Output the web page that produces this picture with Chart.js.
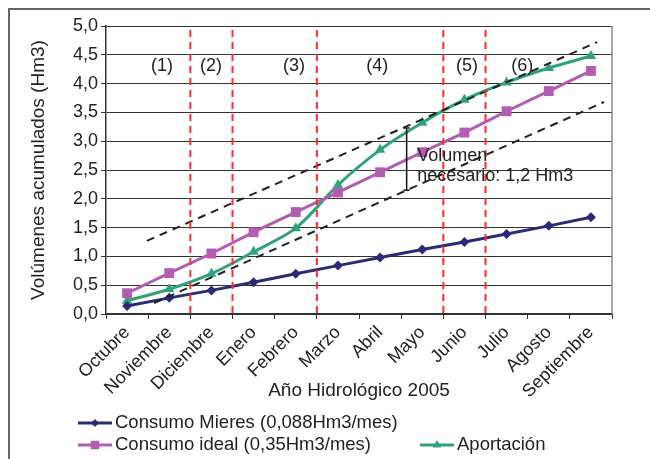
<!DOCTYPE html>
<html>
<head>
<meta charset="utf-8">
<script src="https://cdn.jsdelivr.net/npm/chart.js@4/dist/chart.umd.min.js"></script>
<style>
  body { margin: 0; background: #fff; }
  #wrap { position: relative; width: 650px; height: 459px; overflow: hidden; }
  #frame { position: absolute; left: 8px; top: 8px; width: 700px; height: 500px; border: 2px solid #666; pointer-events: none; }
</style>
</head>
<body>
<div id="wrap">
  <canvas id="chart" width="650" height="459"></canvas>
  <div id="frame"></div>
</div>
<script>
var months = ["Octubre", "Noviembre", "Diciembre", "Enero", "Febrero", "Marzo", "Abril", "Mayo", "Junio", "Julio", "Agosto", "Septiembre"];
var consumoMieres = [0.14, 0.28, 0.41, 0.55, 0.70, 0.84, 0.98, 1.12, 1.25, 1.39, 1.53, 1.68];
var consumoIdeal = [0.36, 0.71, 1.05, 1.42, 1.77, 2.11, 2.46, 2.81, 3.15, 3.52, 3.87, 4.22];
var aportacion = [0.23, 0.43, 0.70, 1.08, 1.49, 2.24, 2.85, 3.32, 3.72, 4.02, 4.27, 4.48];

// limites de los periodos (1)..(6), en posicion de mes
var periodBounds = [1.5, 2.5, 4.5, 7.5, 8.5];
var periodLabels = ["(1)", "(2)", "(3)", "(4)", "(5)", "(6)"];
var periodLabelX = [0.83, 1.99, 3.96, 5.93, 8.06, 9.37];

// rectas envolventes (x en posicion de mes, y en Hm3)
var upperLine = [{ x: 0.47, y: 1.27 }, { x: 11.15, y: 4.72 }];
var lowerLine = [{ x: 0.64, y: 0.19 }, { x: 11.31, y: 3.68 }];
var volumenLine = [{ x: 6.63, y: 3.23 }, { x: 6.63, y: 2.15 }];

var textColor = "#222";
var fontFamily = "'Liberation Sans', Arial, sans-serif";

var navy = "#2b2a78";
var magenta = "#b35cb3";
var green = "#2ea378";

var datasets = [];

periodBounds.forEach(function(b) {
    datasets.push({
        data: [{ x: b, y: 4.93 }, { x: b, y: -0.07 }],
        xAxisID: "x2",
        borderColor: "#ff2a2a",
        borderWidth: 2,
        borderDash: [7, 5],
        pointRadius: 0,
        clip: false
    });
});

datasets.push({
    data: upperLine, xAxisID: "x2", borderColor: "#222", borderWidth: 2,
    borderDash: [8, 6], pointRadius: 0
});
datasets.push({
    data: lowerLine, xAxisID: "x2", borderColor: "#222", borderWidth: 2,
    borderDash: [8, 6], pointRadius: 0
});
datasets.push({
    data: volumenLine, xAxisID: "x2", borderColor: "#111", borderWidth: 1.5,
    pointStyle: "line", pointRadius: 3, pointBorderColor: "#111", pointBorderWidth: 1.5
});

datasets.push({
    label: "Consumo Mieres (0,088Hm3/mes)",
    data: consumoMieres, borderColor: navy, backgroundColor: navy, borderWidth: 3,
    pointStyle: "rectRot", pointRadius: 5, pointBorderWidth: 0
});
datasets.push({
    label: "Consumo ideal (0,35Hm3/mes)",
    data: consumoIdeal, borderColor: magenta, backgroundColor: magenta, borderWidth: 3,
    pointStyle: "rect", pointRadius: 7, pointBorderWidth: 0
});
datasets.push({
    label: "Aportación",
    data: aportacion, borderColor: green, backgroundColor: green, borderWidth: 3,
    pointStyle: "triangle", pointRadius: 6, pointBorderWidth: 0, tension: 0.3
});

var extrasPlugin = {
    id: "extras",
    afterDatasetsDraw: function(chart) {
        var ctx = chart.ctx;
        var xs = chart.scales.x2;
        var ys = chart.scales.y;
        var area = chart.chartArea;
        ctx.save();
        // borde derecho del area
        ctx.strokeStyle = "#888";
        ctx.lineWidth = 1.5;
        ctx.beginPath();
        ctx.moveTo(area.right, area.top);
        ctx.lineTo(area.right, area.bottom);
        ctx.stroke();

        ctx.fillStyle = textColor;
        ctx.font = "18px " + fontFamily;
        ctx.textAlign = "center";
        ctx.textBaseline = "middle";
        periodLabels.forEach(function(t, i) {
            ctx.fillText(t, xs.getPixelForValue(periodLabelX[i]), ys.getPixelForValue(4.31));
        });

        ctx.textAlign = "left";
        ctx.fillText("Volumen", xs.getPixelForValue(6.88), ys.getPixelForValue(2.74));
        ctx.fillText("necesario: 1,2 Hm3", xs.getPixelForValue(6.88), ys.getPixelForValue(2.40));

        // leyenda
        var items = [
            { ds: 8, x: 78, y: 423 },
            { ds: 9, x: 78, y: 445 },
            { ds: 10, x: 420, y: 445 }
        ];
        items.forEach(function(it) {
            var ds = chart.data.datasets[it.ds];
            ctx.strokeStyle = ds.borderColor;
            ctx.lineWidth = 3;
            ctx.beginPath();
            ctx.moveTo(it.x, it.y);
            ctx.lineTo(it.x + 34, it.y);
            ctx.stroke();
            ctx.fillStyle = ds.backgroundColor;
            Chart.helpers.drawPoint(ctx, {
                pointStyle: ds.pointStyle, radius: ds.pointRadius - 1, borderWidth: 0, rotation: 0
            }, it.x + 17, it.y);
            ctx.fillStyle = textColor;
            ctx.font = "18.5px " + fontFamily;
            ctx.fillText(ds.label, it.x + 37, it.y);
        });
        ctx.restore();
    }
};

new Chart(document.getElementById("chart"), {
    type: "line",
    data: { labels: months, datasets: datasets },
    plugins: [extrasPlugin],
    options: {
        responsive: false,
        animation: false,
        layout: { padding: { top: 26, right: 38, bottom: 53, left: 23 } },
        plugins: { legend: { display: false }, tooltip: { enabled: false } },
        scales: {
            x: {
                offset: true,
                afterFit: function(s) { s.height = 92; },
                grid: { display: true, drawOnChartArea: false, tickLength: 5, color: "#333", offset: true },
                border: { color: "#333", width: 1.5 },
                ticks: { minRotation: 45, maxRotation: 45, color: textColor, font: { size: 18, family: fontFamily } },
                title: { display: true, text: "Año Hidrológico 2005", color: textColor, font: { size: 19, family: fontFamily } }
            },
            x2: { type: "linear", display: false, min: -0.5, max: 11.5 },
            y: {
                min: 0, max: 5,
                afterFit: function(s) { s.width = 83; },
                grid: { color: "#333", lineWidth: 1, tickLength: 5 },
                border: { color: "#333", width: 1.5 },
                ticks: {
                    stepSize: 0.5, color: textColor, font: { size: 18, family: fontFamily },
                    callback: function(v) { return v.toFixed(1).replace(".", ","); }
                },
                title: { display: true, text: "Volúmenes acumulados (Hm3)", color: textColor, font: { size: 19, family: fontFamily } }
            }
        }
    }
});
</script>
</body>
</html>
